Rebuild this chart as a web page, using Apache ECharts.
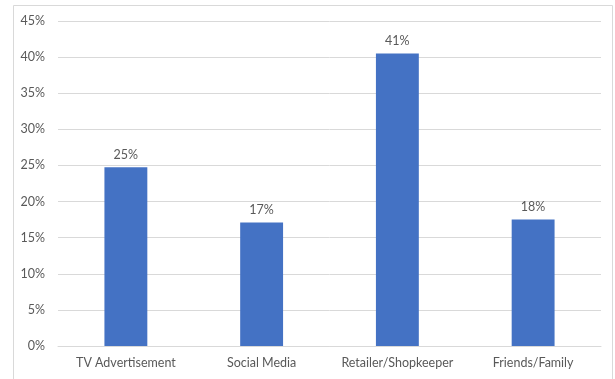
<!DOCTYPE html>
<html>
<head>
<meta charset="utf-8">
<script src="https://cdn.jsdelivr.net/npm/echarts@6/dist/echarts.min.js"></script>
<style>
  html, body { margin: 0; padding: 0; background: #fff; }
  #chart { width: 615px; height: 379px; }
</style>
</head>
<body>
<div id="chart"></div>
<script>
const categories = ['TV Advertisement', 'Social Media', 'Retailer/Shopkeeper', 'Friends/Family']
const shares = [24.75, 17.1, 40.5, 17.5]
const yTicks = [0, 5, 10, 15, 20, 25, 30, 35, 40, 45]

const chart = echarts.init(document.getElementById('chart'))
const textColor = '#595959'
const font = 'Lato, "Open Sans", sans-serif'

chart.setOption({
  backgroundColor: '#fff',
  animation: false,
  graphic: [
    {
      type: 'rect',
      shape: { x: 13.5, y: 5.5, width: 599, height: 390 },
      style: { fill: 'none', stroke: '#d9d9d9', lineWidth: 1 },
      silent: true,
    },
  ],
  grid: {
    left: 58,
    right: 14,
    top: 21,
    bottom: 33,
  },
  xAxis: {
    type: 'category',
    data: categories,
    axisLine: { show: true, lineStyle: { color: '#d9d9d9' } },
    axisTick: { show: false },
    axisLabel: {
      interval: 0,
      color: textColor,
      fontFamily: font,
      fontSize: 12.5,
      margin: 10,
    },
  },
  yAxis: {
    type: 'value',
    min: yTicks[0],
    max: yTicks[yTicks.length - 1],
    interval: 5,
    axisLine: { show: false },
    axisTick: { show: false },
    axisLabel: {
      color: textColor,
      fontFamily: font,
      fontSize: 12.5,
      margin: 13,
      formatter: v => v + '%',
    },
    splitLine: { lineStyle: { color: '#d9d9d9' } },
  },
  series: [
    {
      type: 'bar',
      data: shares,
      barWidth: '31.6%',
      itemStyle: { color: '#4472c4' },
      label: {
        show: true,
        position: 'top',
        distance: 6,
        color: textColor,
        fontFamily: font,
        fontSize: 12.5,
        formatter: p => Math.round(p.value) + '%',
      },
    },
  ],
})
</script>
</body>
</html>
